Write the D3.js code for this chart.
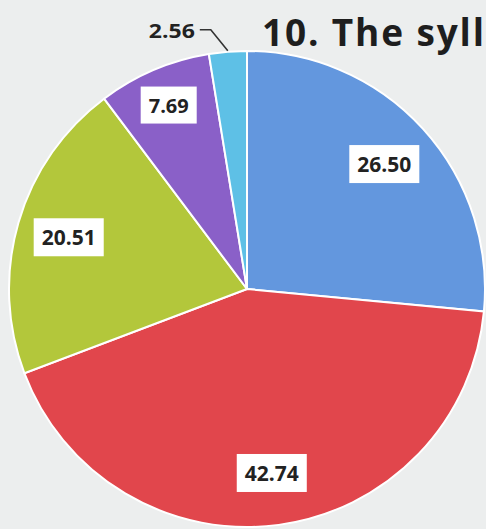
<!DOCTYPE html>
<html><head><meta charset="utf-8">
<script src="https://cdn.jsdelivr.net/npm/d3@7"></script>
<style>html,body{margin:0;padding:0;background:#eceeee;overflow:hidden}</style>
</head><body>
<svg id="chart" width="486" height="529"></svg>
<script>
const categories = ["A", "B", "C", "D", "E"];
const values = [26.50, 42.74, 20.51, 7.69, 2.56];
const labels = ["26.50", "42.74", "20.51", "7.69", "2.56"];
const colors = ["#6397de", "#e1464c", "#b3c73b", "#8a60c8", "#5ec0e6"];
const title = "10. The syll";

const svg = d3.select("#chart");
const cx = 247, cy = 289, R = 238;
const g = svg.append("g").attr("transform", `translate(${cx},${cy})`);

const pie = d3.pie().sort(null).value(d => d)(values);
const arc = d3.arc().innerRadius(0).outerRadius(R);

g.selectAll("path.slice").data(pie).join("path")
  .attr("class", "slice")
  .attr("d", arc)
  .attr("fill", (d, i) => colors[i])
  .attr("stroke", "#ffffff")
  .attr("stroke-width", 2);

const labelArc = d3.arc().innerRadius(R * 0.78).outerRadius(R * 0.78);
const smallArc = d3.arc().innerRadius(R * 0.84).outerRadius(R * 0.84);

pie.forEach((d, i) => {
  if (values[i] < 5) {
    const a = (d.startAngle + d.endAngle) / 2;
    const p0 = [Math.sin(a) * (R + 1), -Math.cos(a) * (R + 1)];
    const p1 = [p0[0] - 17, p0[1] - 21];
    const p2 = [p1[0] - 11, p1[1]];
    g.append("path")
      .attr("d", d3.line()([p0, p1, p2]))
      .attr("fill", "none").attr("stroke", "#333").attr("stroke-width", 1.6);
    g.append("text")
      .attr("x", p2[0] - 5).attr("y", p2[1] + 1)
      .attr("text-anchor", "end").attr("dominant-baseline", "central")
      .attr("font-family", "'Open Sans', sans-serif").attr("font-weight", 700)
      .attr("font-size", 19).attr("fill", "#222")
      .attr("textLength", 46).attr("lengthAdjust", "spacingAndGlyphs")
      .text(labels[i]);
  } else {
    const c = (values[i] < 10 ? smallArc : labelArc).centroid(d);
    const t = g.append("text")
      .attr("x", c[0]).attr("y", c[1])
      .attr("text-anchor", "middle").attr("dominant-baseline", "central")
      .attr("font-family", "'Open Sans', sans-serif").attr("font-weight", 700)
      .attr("font-size", values[i] < 10 ? 20 : 21).attr("fill", "#222")
      .text(labels[i]);
    const bb = t.node().getBBox();
    g.insert("rect", "text")
      .attr("x", bb.x - 8).attr("y", bb.y - 5)
      .attr("width", bb.width + 16).attr("height", bb.height + 10)
      .attr("fill", "#ffffff");
  }
});
g.selectAll("text").raise();

svg.append("text")
  .attr("x", 262).attr("y", 46)
  .attr("font-family", "'Open Sans', sans-serif").attr("font-weight", 700)
  .attr("font-size", 37).attr("fill", "#1e1e1e")
  .attr("textLength", 222).attr("lengthAdjust", "spacing")
  .text(title);
</script>
</body></html>
